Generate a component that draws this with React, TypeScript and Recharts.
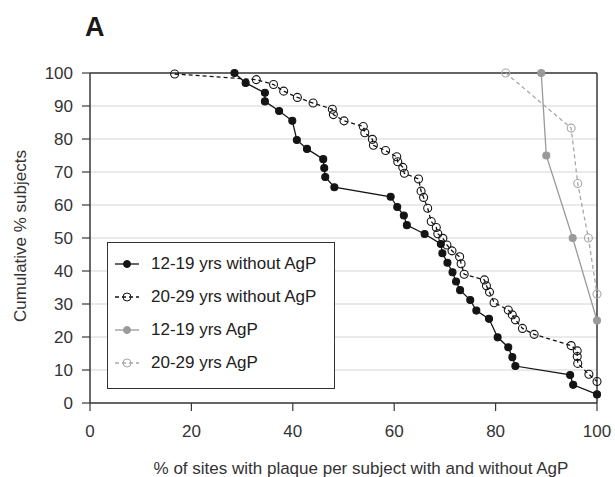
import { LineChart, Line, XAxis, YAxis, CartesianGrid, Legend, ReferenceLine } from 'recharts';

// 12-19 yrs without AgP
const teenX = [28.5, 30.7, 34.5, 34.5, 37.3, 39.9, 40.8, 42.8, 46.0, 46.2, 46.4, 48.2, 59.3, 60.6, 61.9, 62.5, 66.0, 69.2, 69.5, 70.5, 71.5, 72.2, 73.0, 75.0, 76.2, 78.7, 80.4, 82.5, 83.3, 83.9, 94.7, 95.3, 100];
const teenY = [100, 97.0, 94.0, 91.4, 88.5, 85.5, 79.7, 77.0, 73.9, 71.2, 68.5, 65.4, 62.5, 59.4, 56.8, 53.9, 51.2, 48.2, 45.4, 42.5, 39.6, 36.8, 34.2, 31.2, 28.0, 25.5, 19.9, 16.9, 13.9, 11.2, 8.5, 5.5, 2.6];

// 20-29 yrs without AgP
const adultX = [16.7, 32.8, 36.2, 38.2, 40.9, 44.0, 47.8, 48.0, 50.1, 53.9, 54.2, 55.7, 55.9, 58.3, 60.5, 60.7, 61.7, 62.0, 64.8, 65.3, 65.8, 66.6, 67.3, 68.3, 68.6, 69.6, 70.4, 71.4, 72.9, 73.2, 73.8, 77.8, 78.2, 78.8, 79.7, 82.5, 83.3, 83.9, 85.3, 87.6, 94.9, 96.1, 96.1, 96.2, 98.4, 100];
const adultY = [99.7, 98.0, 96.5, 94.5, 92.6, 90.9, 89.0, 87.4, 85.5, 83.8, 81.9, 79.9, 78.1, 76.5, 74.6, 73.1, 71.4, 69.6, 67.9, 64.2, 62.3, 59.0, 55.0, 53.2, 51.3, 49.9, 47.9, 46.1, 44.3, 42.2, 39.0, 37.3, 35.5, 33.6, 30.4, 28.2, 26.7, 25.2, 22.6, 20.8, 17.4, 15.8, 14.1, 12.0, 8.7, 6.5];

// 12-19 yrs AgP
const teenAgpX = [89.0, 90.0, 95.2, 100];
const teenAgpY = [100, 75, 50, 25];

// 20-29 yrs AgP
const adultAgpX = [82.0, 94.9, 96.2, 98.3, 100];
const adultAgpY = [100, 83.3, 66.5, 50, 33];

const xTicks = [0, 20, 40, 60, 80, 100];
const yTicks = [0, 10, 20, 30, 40, 50, 60, 70, 80, 90, 100];

const zip = (xs: number[], ys: number[]) => xs.map((x, i) => ({ x, y: ys[i] }));

const font = '"Liberation Sans", Arial, sans-serif';
const axisColor = '#383838';
const textColor = '#333';

const series = [
  { name: '12-19 yrs without AgP', data: zip(teenX, teenY), color: '#141414', dash: undefined, open: false },
  { name: '20-29 yrs without AgP', data: zip(adultX, adultY), color: '#141414', dash: '4 3', open: true },
  { name: '12-19 yrs AgP', data: zip(teenAgpX, teenAgpY), color: '#9a9a9a', dash: undefined, open: false },
  { name: '20-29 yrs AgP', data: zip(adultAgpX, adultAgpY), color: '#a8a8a8', dash: '4 3', open: true },
];

function LegendBox() {
  return (
    <div
      style={{
        width: 226,
        height: 141,
        border: '1px solid #333',
        background: '#fff',
        boxSizing: 'content-box',
        paddingTop: 4,
        fontFamily: font,
        fontSize: 17,
        color: '#222',
      }}
    >
      {series.map((s) => (
        <div key={s.name} style={{ height: 33, display: 'flex', alignItems: 'center', paddingLeft: 7 }}>
          <svg width={24} height={12} style={{ marginRight: 12 }}>
            <line x1={0} y1={6} x2={24} y2={6} stroke={s.color} strokeWidth={1.3} strokeDasharray={s.dash} />
            <circle
              cx={12}
              cy={6}
              r={s.open ? 4 : 3.5}
              fill={s.open ? 'none' : s.color}
              stroke={s.color}
              strokeWidth={1}
              strokeDasharray="none"
            />
          </svg>
          <span>{s.name}</span>
        </div>
      ))}
    </div>
  );
}

function makeDot(color: string, open: boolean, name: string) {
  return (props: any) => {
    const { cx, cy, index } = props;
    if (cx == null || cy == null) return <g key={`${name}-${index}`} />;
    return (
      <circle
        key={`${name}-${index}`}
        cx={cx}
        cy={cy}
        r={open ? 4 : 3.5}
        fill={open ? 'none' : color}
        stroke={color}
        strokeWidth={1.1}
        strokeDasharray="none"
      />
    );
  };
}

export default function App() {
  return (
    <div style={{ position: 'absolute', left: 0, top: 0, width: 615, height: 477 }}>
      <svg width={615} height={477} style={{ position: 'absolute', left: 0, top: 0 }}>
        <text x={85} y={36} fontFamily={font} fontWeight="bold" fontSize={27} fill="#1a1a1a">
          A
        </text>
      </svg>
      <LineChart
        width={615}
        height={477}
        margin={{ top: 73, right: 18, bottom: 0, left: 0 }}
        style={{ fontFamily: font }}
      >
        <CartesianGrid vertical={false} stroke="#d6d6d6" strokeWidth={1.2} />
        <XAxis
          dataKey="x"
          type="number"
          domain={[0, 100]}
          ticks={xTicks}
          height={74}
          tickSize={8}
          tickMargin={14}
          tick={{ fill: textColor, fontSize: 17 }}
          axisLine={{ stroke: axisColor, strokeWidth: 1.5 }}
          tickLine={{ stroke: axisColor, strokeWidth: 1.2 }}
          allowDuplicatedCategory={false}
          label={() => (
            <text x={361} y={474} textAnchor="middle" fontFamily={font} fontSize={17} fill={textColor}>
              % of sites with plaque per subject with and without AgP
            </text>
          )}
        />
        <YAxis
          dataKey="y"
          type="number"
          domain={[0, 100]}
          ticks={yTicks}
          width={90}
          tickSize={8}
          tickMargin={9}
          tick={{ fill: textColor, fontSize: 17 }}
          axisLine={{ stroke: axisColor, strokeWidth: 1.5 }}
          tickLine={{ stroke: axisColor, strokeWidth: 1.2 }}
          label={() => (
            <text
              x={20}
              y={236}
              textAnchor="middle"
              dominantBaseline="central"
              transform="rotate(-90 20 236)"
              fontFamily={font}
              fontSize={17}
              fill={textColor}
            >
              Cumulative % subjects
            </text>
          )}
        />
        <ReferenceLine y={100} stroke={axisColor} strokeWidth={1.5} />
        <ReferenceLine x={100} stroke={axisColor} strokeWidth={1.5} />
        {series.map((s) => (
          <Line
            key={s.name}
            name={s.name}
            data={s.data}
            dataKey="y"
            type="linear"
            stroke={s.color}
            strokeWidth={1.3}
            strokeDasharray={s.dash}
            dot={makeDot(s.color, s.open, s.name)}
            activeDot={false}
            isAnimationActive={false}
          />
        ))}
        <Legend
          layout="vertical"
          align="center"
          verticalAlign="middle"
          wrapperStyle={{ left: 107, top: 242, width: 228, height: 146 }}
          content={() => <LegendBox />}
        />
      </LineChart>
    </div>
  );
}
